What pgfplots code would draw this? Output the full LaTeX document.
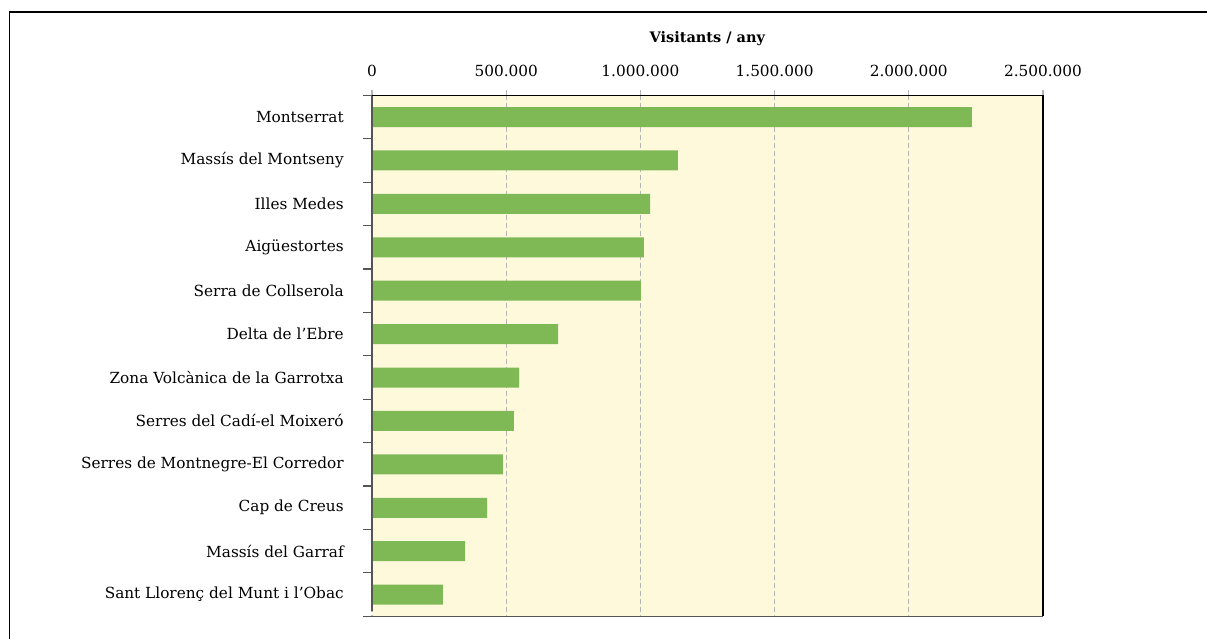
\documentclass[border=0pt]{standalone}
\usepackage{pgfplots}
\pgfplotsset{compat=1.18}
\usepackage{fontspec}
\setmainfont{DejaVu Serif}
\definecolor{bargreen}{HTML}{7EB955}
\definecolor{bgcream}{HTML}{FFF9DC}
\definecolor{gridgray}{HTML}{B4B4B4}
\definecolor{axisgray}{HTML}{555555}
\begin{document}
\fontsize{15.3pt}{18pt}\selectfont
\begin{tikzpicture}[x=1pt,y=1pt]
\useasboundingbox (0,0) rectangle (1207,639);
\draw[line width=1.4pt] (9.5,-20) -- (9.5,627) -- (1230,627);
\begin{axis}[
  at={(372pt,22.7pt)}, anchor=south west,
  scale only axis, width=671pt, height=521pt,
  xmin=0, xmax=2500000,
  ymin=-0.5, ymax=11.5, y dir=reverse,
  axis background/.style={fill=bgcream},
  axis line style={draw=none},
  xtick={0,500000,1000000,1500000,2000000,2500000},
  xticklabels={0,500.000,1.000.000,1.500.000,2.000.000,2.500.000},
  xticklabel pos=upper, xtick pos=upper,
  ytick pos=left,
  scaled x ticks=false,
  xmajorgrids,
  major grid style={gridgray, dash pattern=on 5pt off 3pt, line width=1.2pt},
  tick align=outside,
  major tick length=5pt,
  minor tick length=9pt,
  xtick style={gridgray, dash pattern=on 5pt off 3pt, line width=1.2pt},
  ytick={0,...,11},
  minor ytick={-0.5,0.5,...,11.5},
  ytick style={draw=none},
  minor y tick style={axisgray, line width=1.2pt, draw=axisgray},
  yticklabels={Montserrat,Massís del Montseny,Illes Medes,Aigüestortes,Serra de Collserola,Delta de l’Ebre,Zona Volcànica de la Garrotxa,Serres del Cadí-el Moixeró,Serres de Montnegre-El Corredor,Cap de Creus,Massís del Garraf,Sant Llorenç del Munt i l’Obac},
  yticklabel style={font=\fontsize{15.3pt}{18pt}\selectfont, xshift=-18pt},
  xticklabel style={font=\fontsize{15.3pt}{18pt}\selectfont, yshift=8pt},
  title={\textbf{Visitants / any}},
  title style={font=\fontsize{14.5pt}{18pt}\selectfont, at={(0.5,1)}, anchor=center, yshift=51pt},
  xbar, bar width=20pt,
  clip=false,
]
\addplot[fill=bargreen, draw=none] coordinates {
(2235000,0) (1140000,1) (1036000,2) (1013000,3) (1002000,4) (693000,5)
(548000,6) (529000,7) (488000,8) (428500,9) (346500,10) (264500,11)};
\draw[axisgray, line width=1.3pt] (rel axis cs:0,0) -- (rel axis cs:1,0);
\draw[axisgray, line width=1.3pt] ([yshift=5pt]rel axis cs:0,0) -- (rel axis cs:0,1);
\draw[black, line width=1.3pt] (rel axis cs:1,0) -- (rel axis cs:1,1) -- (rel axis cs:0,1);
\end{axis}
\end{tikzpicture}
\end{document}
